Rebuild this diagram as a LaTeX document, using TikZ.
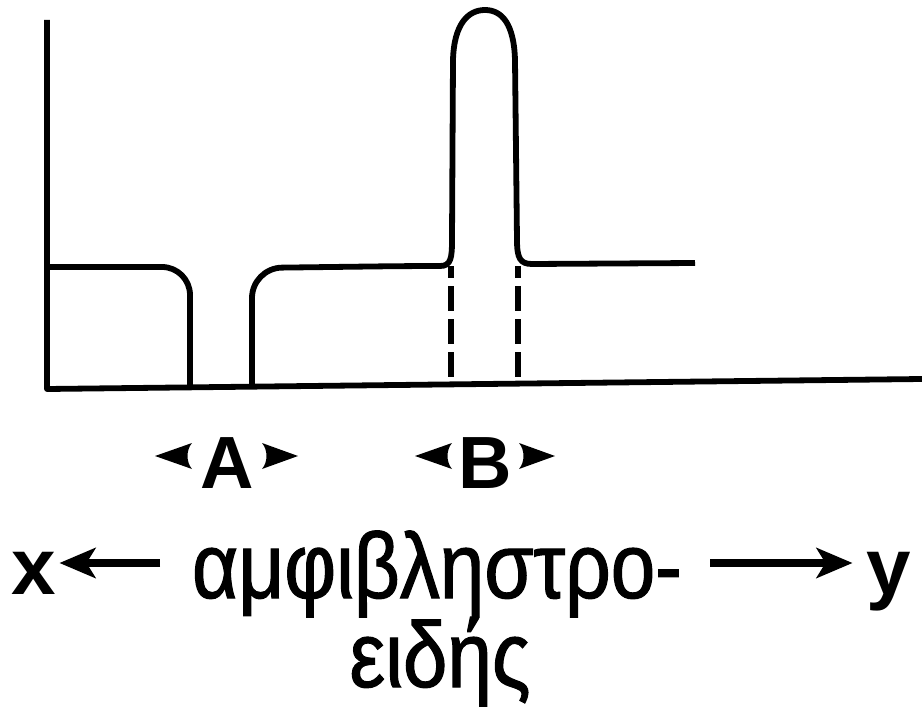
\documentclass[tikz,border=0pt]{standalone}
\usepackage{fontspec}
\setmainfont{Liberation Sans}
\newfontfamily\grfont[FakeStretch=0.86,FakeBold=1.2]{Liberation Sans}
\usetikzlibrary{arrows.meta}
\begin{document}
\begin{tikzpicture}[x=1pt,y=-1pt,
  curve/.style={line width=5.8pt, line join=round, line cap=butt},
  dashline/.style={line width=6.5pt, dash pattern=on 25pt off 8pt, dash phase=13pt},
  lbl/.style={font=\bfseries\fontsize{74}{74}\selectfont, inner sep=0pt, anchor=base},
  endlbl/.style={font=\bfseries\fontsize{80}{80}\selectfont, inner sep=0pt, anchor=base},
  grk/.style={font=\grfont\fontsize{93}{93}\selectfont, inner sep=0pt, anchor=base},
  bigarrow/.style={line width=8.5pt, -{Stealth[length=36pt,width=30pt,inset=9pt]}}]
\useasboundingbox (0,0) rectangle (922,709);
% axes
\coordinate (o) at (47,389);
\coordinate (top) at (47,20);
\coordinate (xe) at (922,379);
\draw[curve] (top) -- (o) -- (xe);
% left plateau
\draw[curve, rounded corners=28pt] (47,267) -- (190,267) -- (190,388);
% middle plateau with peak
\draw[curve] (252,388) [rounded corners=30pt] -- (252,268) -- (410,266) [sharp corners]
  -- (440,266) .. controls (451,266) and (452,258) .. (452,240)
  -- (453,60) .. controls (454,24) and (468,10) .. (485,10)
  .. controls (502,10) and (514,24) .. (515,60)
  -- (517,240) .. controls (517,258) and (520,264) .. (532,264) -- (695,263);
% dashed lines
\draw[dashline] (451,266) -- (451,386);
\draw[dashline] (518,266) -- (518,385);
% labels A, B
\node[lbl] (A) at (227,488) {A};
\node[lbl] (B) at (485,488) {B};
\fill (155,456) -- (192,443) .. controls (186,450) and (186,462) .. (192,469) -- cycle;
\fill (298,456) -- (262,443) .. controls (268,450) and (268,462) .. (262,469) -- cycle;
\fill (415,456) -- (452,443) .. controls (446,450) and (446,462) .. (452,469) -- cycle;
\fill (555,456) -- (519,443) .. controls (525,450) and (525,462) .. (519,469) -- cycle;
% bottom text
\node[endlbl] (xl) at (34,594) {x};
\node[endlbl] (yl) at (889,594) {y};
\node[grk] (w1) at (437,598) {αμφιβληστρο-};
\node[grk] (w2) at (440,687) {ειδής};
\coordinate (xa) at (160,563);
\coordinate (ya) at (710,563);
\draw[bigarrow] (xa) -- ([xshift=3pt]xl.east |- xa);
\draw[bigarrow] (ya) -- ([xshift=-14pt]yl.west |- ya);
\end{tikzpicture}
\end{document}
